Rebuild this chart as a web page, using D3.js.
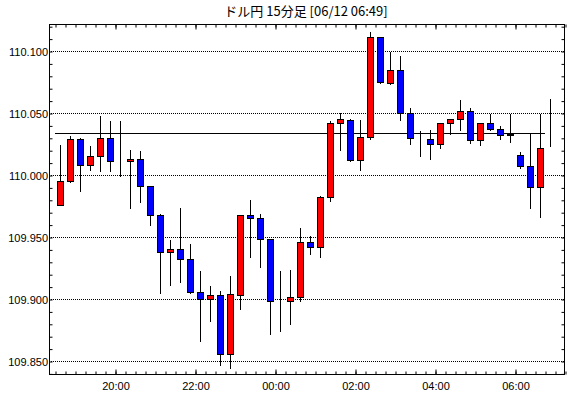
<!DOCTYPE html>
<html>
<head>
<meta charset="utf-8">
<script src="https://cdnjs.cloudflare.com/ajax/libs/d3/7.8.5/d3.min.js"></script>
<style>
body { margin: 0; background: #fff; }
</style>
</head>
<body>
<div id="chart"></div>
<script>
//Datos
let title = 'ドル円 15分足 [06/12 06:49]';
let times = ['18:30','18:45','19:00','19:15','19:30','19:45','20:00','20:15','20:30','20:45',
    '21:00','21:15','21:30','21:45','22:00','22:15','22:30','22:45','23:00','23:15',
    '23:30','23:45','00:00','00:15','00:30','00:45','01:00','01:15','01:30','01:45',
    '02:00','02:15','02:30','02:45','03:00','03:15','03:30','03:45','04:00','04:15',
    '04:30','04:45','05:00','05:15','05:30','05:45','06:00','06:15','06:30','06:45'];
let opens = [109.976,109.995,110.029,110.008,110.015,110.030,110.011,110.011,110.013,109.991,
    109.968,109.938,109.940,109.932,109.906,109.900,109.903,109.856,109.903,109.968,
    109.965,109.948,109.898,109.898,109.902,109.946,109.942,109.982,110.042,110.044,
    110.012,110.031,110.111,110.074,110.085,110.050,110.029,110.029,110.025,110.042,
    110.045,110.052,110.028,110.042,110.037,110.032,110.016,110.007,109.990,110.023];
let highs = [110.025,110.032,110.031,110.024,110.048,110.044,110.044,110.021,110.020,109.992,
    109.969,109.948,109.974,109.945,109.923,109.911,109.907,109.919,109.968,109.981,
    109.969,109.948,109.923,109.924,109.958,109.952,109.984,110.044,110.051,110.046,
    110.045,110.116,110.111,110.100,110.097,110.055,110.036,110.037,110.042,110.046,
    110.061,110.055,110.042,110.050,110.040,110.050,110.019,110.034,110.050,110.062];
let lows = [109.976,109.994,109.987,110.004,110.003,110.003,109.999,109.973,109.978,109.960,
    109.905,109.911,109.914,109.905,109.866,109.882,109.847,109.844,109.892,109.934,
    109.926,109.872,109.874,109.880,109.898,109.936,109.934,109.979,110.020,110.011,
    110.004,110.029,110.074,110.073,110.044,110.025,110.015,110.013,110.022,110.033,
    110.036,110.026,110.024,110.036,110.029,110.027,110.006,109.973,109.966,110.023];
let closes = [109.995,110.029,110.008,110.015,110.030,110.011,110.011,110.013,109.991,109.968,
    109.938,109.940,109.932,109.906,109.900,109.903,109.856,109.904,109.968,109.965,
    109.948,109.898,109.898,109.902,109.946,109.942,109.982,110.042,110.045,110.012,
    110.031,110.111,110.075,110.085,110.050,110.030,110.029,110.025,110.042,110.045,
    110.052,110.028,110.042,110.037,110.032,110.033,110.007,109.990,110.022,110.023];
let refPrice = 110.034;
let yTicks = [109.85, 109.90, 109.95, 110.00, 110.05, 110.10];
let xTickLabels = ['20:00','22:00','00:00','02:00','04:00','06:00'];

//Fechas: antes de mediodía es el día 12
function parseTime(t) {
    let h = +t.split(':')[0], m = +t.split(':')[1];
    return new Date(2019, 5, h < 12 ? 12 : 11, h, m);
}

let data = times.map(function(t, i) {
    return {date: parseTime(t), open: opens[i], high: highs[i], low: lows[i], close: closes[i]};
});

//SVG
let width = 570, height = 398;
let frame = {left: 49, right: 565, top: 24, bottom: 375};
let svg = d3.select('#chart').append('svg')
    .attr('width', width)
    .attr('height', height)
    .style('display', 'block');

let fontFamily = '"Liberation Sans", Arial, sans-serif';

//Escalas
let x = d3.scaleTime()
    .domain([new Date(2019, 5, 11, 18, 21), new Date(2019, 5, 12, 7, 15)])
    .range([frame.left, frame.right]);

let y = d3.scaleLinear()
    .domain([110 - 200 / 1240, 110 + 151 / 1240])
    .range([frame.bottom, frame.top]);

function px(v) { return Math.round(v) + 0.5; }
let half = 7.5 * 60 * 1000;
function cx(d) { return Math.round(x(new Date(+d.date + half))); }

//Título
svg.append('text')
    .attr('x', 306)
    .attr('y', 16)
    .attr('text-anchor', 'middle')
    .style('font-family', '"Noto Sans CJK JP", sans-serif')
    .style('font-size', '13px')
    .text(title);

//Rejilla
svg.append('g').selectAll('line')
    .data(yTicks)
    .enter()
    .append('line')
    .attr('x1', frame.left)
    .attr('x2', frame.right)
    .attr('y1', function(d) { return px(y(d)); })
    .attr('y2', function(d) { return px(y(d)); })
    .attr('stroke', '#000')
    .attr('stroke-dasharray', '1,1')
    .attr('shape-rendering', 'crispEdges');

//Ticks menores eje Y
let minorY = d3.range(109.84, 110.125, 0.01);
svg.append('g')
    .attr('transform', 'translate(' + (frame.left + 0.5) + ',0.5)')
    .call(d3.axisLeft(y).tickValues(minorY).tickSize(-3).tickFormat(''))
    .call(function(g) { g.select('.domain').remove(); });
svg.append('g')
    .attr('transform', 'translate(' + (frame.right - 0.5) + ',0.5)')
    .call(d3.axisRight(y).tickValues(minorY).tickSize(-3).tickFormat(''))
    .call(function(g) { g.select('.domain').remove(); });

//Etiquetas eje Y
svg.append('g')
    .attr('transform', 'translate(' + frame.left + ',0.5)')
    .call(d3.axisLeft(y).tickValues(yTicks).tickSize(0).tickPadding(1).tickFormat(d3.format('.3f')))
    .call(function(g) {
        g.select('.domain').remove();
        g.selectAll('text').attr('font-size', 11).attr('font-family', fontFamily).attr('fill', '#000');
    });

//Ticks eje X
let majorX = xTickLabels.map(parseTime);
let minorX = x.ticks(d3.timeMinute.every(15));
svg.append('g')
    .attr('transform', 'translate(0.5,' + (frame.bottom - 0.5) + ')')
    .call(d3.axisBottom(x).tickValues(minorX).tickSize(-3).tickFormat(''))
    .call(function(g) { g.select('.domain').remove(); });
svg.append('g')
    .attr('transform', 'translate(0.5,' + (frame.top + 0.5) + ')')
    .call(d3.axisTop(x).tickValues(minorX).tickSize(-3).tickFormat(''))
    .call(function(g) { g.select('.domain').remove(); });
svg.append('g')
    .attr('transform', 'translate(0.5,' + (frame.top + 0.5) + ')')
    .call(d3.axisTop(x).tickValues(majorX).tickSize(-5).tickFormat(''))
    .call(function(g) { g.select('.domain').remove(); });
svg.append('g')
    .attr('transform', 'translate(0.5,' + (frame.bottom - 0.5) + ')')
    .call(d3.axisBottom(x).tickValues(majorX).tickSize(-5).tickPadding(8).tickFormat(d3.timeFormat('%H:%M')))
    .call(function(g) {
        g.select('.domain').remove();
        g.selectAll('text').attr('font-size', 11).attr('font-family', fontFamily).attr('fill', '#000');
    });

//Línea de referencia
svg.append('line')
    .attr('x1', Math.round(x(data[0].date)))
    .attr('x2', Math.round(x(data[data.length - 1].date)))
    .attr('y1', px(y(refPrice)))
    .attr('y2', px(y(refPrice)))
    .attr('stroke', '#000')
    .attr('shape-rendering', 'crispEdges');

//Velas
let chart = svg.append('g').attr('shape-rendering', 'crispEdges');

chart.selectAll('.wick')
    .data(data)
    .enter()
    .append('line')
    .attr('class', 'wick')
    .attr('x1', function(d) { return cx(d) + 0.5; })
    .attr('x2', function(d) { return cx(d) + 0.5; })
    .attr('y1', function(d) { return px(y(d.high)); })
    .attr('y2', function(d) { return px(y(d.low)); })
    .attr('stroke', '#000');

chart.selectAll('.body')
    .data(data)
    .enter()
    .append('rect')
    .attr('class', 'body')
    .attr('x', function(d) { return cx(d) - 3 + 0.5; })
    .attr('width', 6)
    .attr('y', function(d) { return px(y(Math.max(d.open, d.close))); })
    .attr('height', function(d) { return Math.round(y(Math.min(d.open, d.close))) - Math.round(y(Math.max(d.open, d.close))); })
    .attr('fill', function(d) {
        if (d.close > d.open) return '#ff0000';
        if (d.close < d.open) return '#0000ff';
        return '#000';
    })
    .attr('stroke', '#000');

//Marco
svg.append('rect')
    .attr('x', frame.left + 0.5)
    .attr('y', frame.top + 0.5)
    .attr('width', frame.right - frame.left - 1)
    .attr('height', frame.bottom - frame.top - 1)
    .attr('fill', 'none')
    .attr('stroke', '#000')
    .attr('stroke-width', 1.5)
    .attr('shape-rendering', 'crispEdges');
</script>
</body>
</html>
